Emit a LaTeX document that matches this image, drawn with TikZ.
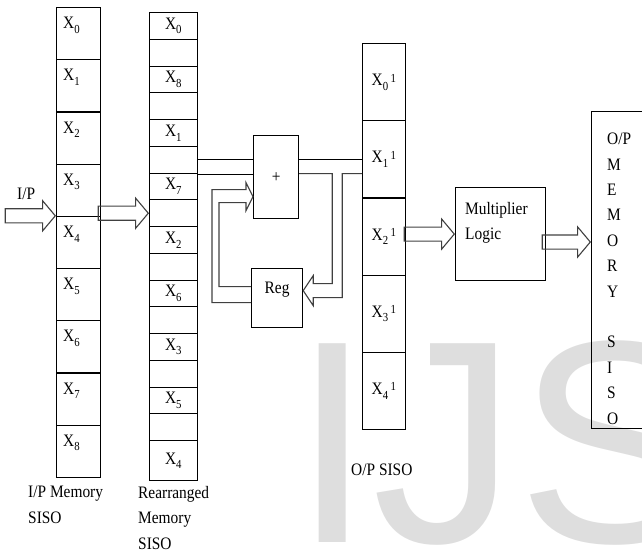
\documentclass[tikz,border=0pt]{standalone}
\usepackage{fontspec}
\setmainfont{Liberation Serif}[Scale=1.75, FakeStretch=0.88]
\newfontfamily\markfont{Liberation Sans}
\usetikzlibrary{shapes.arrows}

\begin{document}
\begin{tikzpicture}[x=1pt, y=-1pt,
    every node/.style={font=\fontsize{10}{25.4}\selectfont, inner sep=0pt},
    cell/.style={draw, line width=1.2pt, anchor=north west},
    ipcell/.style={cell, minimum width=44pt, minimum height=52.2pt},
    recell/.style={cell, minimum width=48pt, minimum height=26.75pt},
    opcell/.style={cell, minimum width=43pt, minimum height=77.2pt},
    blk/.style={draw, line width=1.2pt, anchor=north west},
    lbl/.style={anchor=north west, align=left},
    wire/.style={line width=1.2pt},
    fb/.style={draw=black!75, line width=1.1pt},
    hollow/.style={single arrow, draw=black!75, line width=1.1pt,
                   single arrow head extend=8pt, single arrow tip angle=100,
                   inner sep=6.5pt, minimum height=50pt, anchor=tip},
  ]
    \useasboundingbox (0,0) rectangle (642,554);
    \clip (0,0) rectangle (642,554);

    % watermark
    \node[anchor=base west, text=black!13,
          font=\markfont\fontsize{289}{300}\selectfont] (mark) at (292,542) {IJS};

    % input memory
    \foreach \i in {0,...,8} {
      \node[ipcell] (ip-\i) at (56, 7+52.2*\i) {};
      \node[lbl] (ip-\i-t) at ([xshift=7pt, yshift=-10pt]ip-\i.north west)
        {X\textsubscript{\i}};
    }
    % rearranged memory
    \foreach \k/\v in {0/0,1/8,2/1,3/7,4/2,5/6,6/3,7/5} {
      \pgfmathtruncatemacro\a{2*\k}
      \pgfmathtruncatemacro\b{2*\k+1}
      \node[recell] (re-\a) at (149, 12+26.75*\a) {X\textsubscript{\v}};
      \node[recell] (re-\b) at (149, 12+26.75*\b) {};
    }
    \node[recell, minimum height=40pt] (re-16) at (149,440) {X\textsubscript{4}};
    % output siso
    \foreach \i in {0,...,4}
      \node[opcell] (op-\i) at (362, 43+77.2*\i)
        {X\textsubscript{\i}\textsuperscript{\,1}};

    \node[blk, minimum width=45pt, minimum height=83pt] (add) at (253,135) {+};
    \node[blk, minimum width=51pt, minimum height=59pt, text depth=20pt] (reg)
      at (251,268) {Reg};
    \node[blk, minimum width=90pt, minimum height=93pt] (mult) at (455,187) {};
    \node[lbl] (mult-t) at ([xshift=10pt, yshift=-15pt]mult.north west)
      {Multiplier\\Logic};
    \node[blk, minimum width=80pt, minimum height=317pt] (opm) at (591,111) {};
    \node[lbl] (opm-t) at (607,133)
      {O/P\\M\\E\\M\\O\\R\\Y\\[25.4pt]S\\I\\S\\O};

    % captions
    \node[lbl] (ip-cap) at (17,188) {I/P};
    \node[lbl] (ipmem-cap) at (28,486) {I/P Memory\\SISO};
    \node[lbl] (remem-cap) at (138,486) {Rearranged\\Memory\\SISO};
    \node[lbl] (opsiso-cap) at (351,464) {O/P SISO};

    % wide arrows
    \node[hollow] (a-in) at (ip-4.north west) {};
    \node[hollow] (a-re) at (re-7.west) {};
    \node[hollow] (a-mul) at (mult.west) {};
    \node[hollow, minimum height=48pt] (a-out) at (591,242) {};

    % adder wiring
    \coordinate (addIn) at ([yshift=2.5pt]add.west);
    \coordinate (addOut) at ([yshift=3.5pt]add.east);
    \draw[wire] (re-5.east) -- (re-5.east -| add.west);
    \draw[wire] (addIn -| re-6.east) -- (addIn);
    \draw[wire] (op-1.west -| add.east) -- (op-1.west);
    % feedback into reg
    \draw[fb] (addOut) -- ++(33,0) -- ++(0,110) -- ++(-19,0) -- ++(0,-8)
      -- ([yshift=7.5pt]reg.east) -- ++(10,15) -- ++(0,-8) -- ++(29,0)
      |- (op-1.west |- addOut);
    % reg back to adder
    \draw[fb] ([yshift=11.5pt]reg.west) -- ++(-32,0) -- ++(0,-84) -- ++(27,0)
      -- ++(0,8) -- ([yshift=-19.5pt]add.west) -- ++(-7,-14) -- ++(0,7)
      -- ++(-34,0) -- ++(0,113) -- ([yshift=-4.5pt]reg.west);
\end{tikzpicture}
\end{document}
